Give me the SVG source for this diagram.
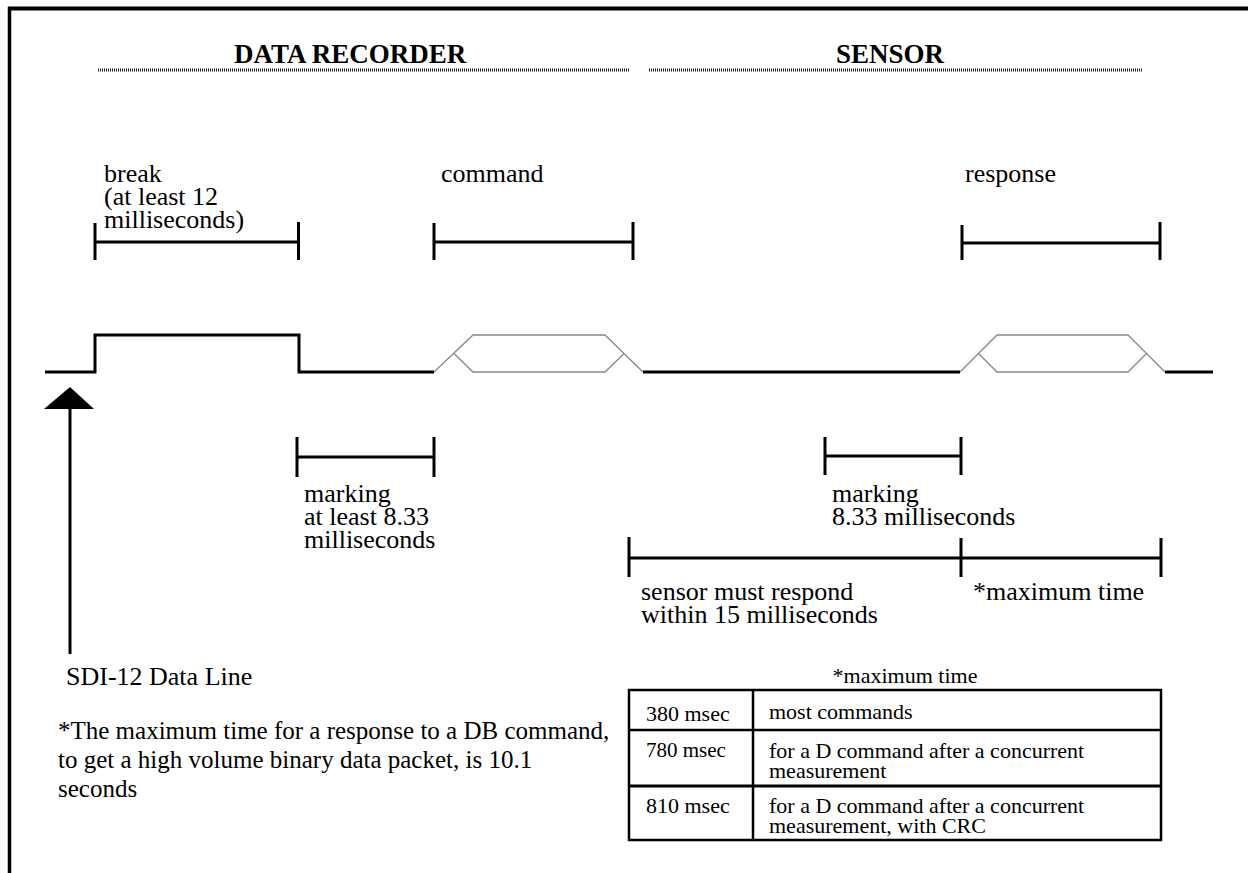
<svg xmlns="http://www.w3.org/2000/svg" width="1248" height="873" viewBox="0 0 1248 873">
<style>
.t{font-family:"Liberation Serif","Times New Roman",serif;font-size:26px;fill:#000}
.h{font-family:"Liberation Serif","Times New Roman",serif;font-size:27px;font-weight:bold;fill:#000}
.s{font-family:"Liberation Serif","Times New Roman",serif;font-size:22px;fill:#000}
.n{font-family:"Liberation Serif","Times New Roman",serif;font-size:25px;fill:#000}
.dot{stroke:#222;stroke-width:3;stroke-dasharray:1 1;fill:none}
.br{stroke:#000;stroke-width:3;fill:none}
.sig{stroke:#000;stroke-width:3;fill:none}
.hex{stroke:#888;stroke-width:1.3;fill:none}
.tb{stroke:#000;stroke-width:2.5;fill:none}
</style>
<rect width="1248" height="873" fill="#fff"/>
<g id="frame">
<line x1="8" y1="8.5" x2="1248" y2="8.5" stroke="#000" stroke-width="4"/>
<line x1="9.5" y1="7" x2="9.5" y2="873" stroke="#000" stroke-width="3.5"/>
</g>
<g id="headers">
<text class="h" x="234" y="63">DATA RECORDER</text>
<line class="dot" x1="98" y1="70" x2="630" y2="70"/>
<text class="h" x="836" y="63">SENSOR</text>
<line class="dot" x1="649" y1="70" x2="1143" y2="70"/>
</g>
<g id="brackets">
<g id="break">
<text class="t" x="104" y="182">break</text>
<text class="t" x="104" y="205">(at least 12</text>
<text class="t" x="104" y="228">milliseconds)</text>
<path class="br" d="M95 223V260M95 242H298.5M298.5 222V260"/>
</g>
<g id="command">
<text class="t" x="441" y="182">command</text>
<path class="br" d="M434 223V260M434 242H633M633 222V260"/>
</g>
<g id="response">
<text class="t" x="965" y="182">response</text>
<path class="br" d="M962 225V260M962 243H1160M1160 222V260"/>
</g>
<g id="marking1">
<path class="br" d="M297 437V477M297 457H434M434 437V477"/>
<text class="t" x="304" y="502">marking</text>
<text class="t" x="304" y="525">at least 8.33</text>
<text class="t" x="304" y="548">milliseconds</text>
</g>
<g id="marking2">
<path class="br" d="M825 437V475M825 456H961M961 437V475"/>
<text class="t" x="832" y="502">marking</text>
<text class="t" x="832" y="525">8.33 milliseconds</text>
</g>
<g id="respond">
<path class="br" d="M629 537V577M629 558H1161M961 538V577M1161 538V577"/>
<text class="t" x="641" y="600">sensor must respond</text>
<text class="t" x="641" y="623">within 15 milliseconds</text>
<text class="t" x="973" y="600">*maximum time</text>
</g>
</g>
<g id="signal">
<path class="sig" d="M45 372H95V335H299V372H434"/>
<path class="hex" d="M434 372L473 335H605L643 372M454 353.5L473 372H605L624 353.5"/>
<path class="sig" d="M643 372H960"/>
<path class="hex" d="M960 372L997 335H1128L1165 372M978.5 353.5L997 372H1128L1146.5 353.5"/>
<path class="sig" d="M1165 372H1213"/>
</g>
<g id="dataline">
<polygon points="70,387 94,409 44,409" fill="#000"/>
<line x1="70" y1="405" x2="70" y2="654" stroke="#000" stroke-width="3"/>
<text class="t" x="66" y="685">SDI-12 Data Line</text>
</g>
<g id="note">
<text class="n" x="58" y="739">*The maximum time for a response to a DB command,</text>
<text class="n" x="58" y="768">to get a high volume binary data packet, is 10.1</text>
<text class="n" x="58" y="797">seconds</text>
</g>
<g id="table">
<text class="s" x="905" y="683" text-anchor="middle">*maximum time</text>
<rect class="tb" x="629" y="690" width="532" height="150"/>
<line class="tb" x1="753" y1="690" x2="753" y2="840"/>
<line class="tb" x1="629" y1="730" x2="1161" y2="730"/>
<line x1="629" y1="786" x2="1161" y2="786" stroke="#000" stroke-width="3"/>
<text class="s" x="646" y="721">380 msec</text>
<text class="s" x="769" y="719">most commands</text>
<text class="s" x="646" y="757" style="font-size:21px">780 msec</text>
<text class="s" x="769" y="758">for a D command after a concurrent</text>
<text class="s" x="769" y="778">measurement</text>
<text class="s" x="646" y="813">810 msec</text>
<text class="s" x="769" y="813">for a D command after a concurrent</text>
<text class="s" x="769" y="833">measurement, with CRC</text>
</g>
</svg>
